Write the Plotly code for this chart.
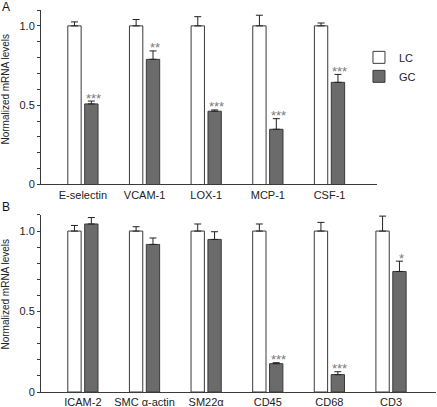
import plotly.graph_objects as go

# ---- data ----
cats_a = ["E-selectin", "VCAM-1", "LOX-1", "MCP-1", "CSF-1"]
lc_a = [1.0, 1.0, 1.0, 1.0, 1.0]
lc_err_a = [0.025, 0.04, 0.058, 0.067, 0.018]
gc_a = [0.508, 0.789, 0.462, 0.348, 0.644]
gc_err_a = [0.018, 0.053, 0.008, 0.067, 0.05]
sig_a = ["***", "**", "***", "***", "***"]

cats_b = ["ICAM-2", "SMC \u03b1-actin", "SM22\u03b1", "CD45", "CD68", "CD3"]
lc_b = [1.0, 1.0, 1.0, 1.0, 1.0, 1.0]
lc_err_b = [0.035, 0.027, 0.044, 0.044, 0.054, 0.093]
gc_b = [1.044, 0.917, 0.948, 0.176, 0.108, 0.749]
gc_err_b = [0.04, 0.04, 0.048, 0.006, 0.018, 0.064]
sig_b = ["", "", "", "***", "***", "*"]

y_tickvals = [0, 0.5, 1.0]
y_ticktext = ["0", "0.5", "1.0"]

FONT = "Liberation Sans, Arial, sans-serif"
LINE = "#3a3a3a"
GC_FILL = "#6b6b6b"


def err(vals):
    return dict(type="data", symmetric=False, array=vals, arrayminus=[0] * len(vals),
                color="#222", thickness=1, width=3.5)


fig = go.Figure()
fig.add_trace(go.Bar(x=cats_a, y=lc_a, name="LC", error_y=err(lc_err_a),
                     marker=dict(color="white", line=dict(color=LINE, width=1)),
                     xaxis="x", yaxis="y", legendgroup="LC"))
fig.add_trace(go.Bar(x=cats_a, y=gc_a, name="GC", error_y=err(gc_err_a),
                     marker=dict(color=GC_FILL, line=dict(color=LINE, width=1)),
                     xaxis="x", yaxis="y", legendgroup="GC"))
fig.add_trace(go.Bar(x=cats_b, y=lc_b, name="LC", error_y=err(lc_err_b),
                     marker=dict(color="white", line=dict(color=LINE, width=1)),
                     xaxis="x2", yaxis="y2", legendgroup="LC", showlegend=False))
fig.add_trace(go.Bar(x=cats_b, y=gc_b, name="GC", error_y=err(gc_err_b),
                     marker=dict(color=GC_FILL, line=dict(color=LINE, width=1)),
                     xaxis="x2", yaxis="y2", legendgroup="GC", showlegend=False))

annotations = []
off = 0.166
for i, (v, e, s) in enumerate(zip(gc_a, gc_err_a, sig_a)):
    if s:
        annotations.append(dict(x=i + off, y=v + e, xref="x", yref="y", text=s,
                                showarrow=False, yanchor="middle", yshift=3,
                                font=dict(size=13, color="#7a7a7a", family=FONT)))
for i, (v, e, s) in enumerate(zip(gc_b, gc_err_b, sig_b)):
    if s:
        annotations.append(dict(x=i + off, y=v + e, xref="x2", yref="y2", text=s,
                                showarrow=False, yanchor="middle", yshift=3,
                                font=dict(size=13, color="#7a7a7a", family=FONT)))

# axis titles and panel letters
for ytitle in (0.793, 0.2565):
    annotations.append(dict(x=-0.0899, y=ytitle, xref="paper", yref="paper",
                            text="Normalized mRNA levels", textangle=-90, showarrow=False,
                            xanchor="center", yanchor="middle",
                            font=dict(size=10, color="#222", family=FONT)))
annotations.append(dict(x=-0.104, y=1.008, xref="paper", yref="paper", text="A",
                        showarrow=False, xanchor="left", yanchor="middle",
                        font=dict(size=12, color="#111", family=FONT)))
annotations.append(dict(x=-0.104, y=0.483, xref="paper", yref="paper", text="B",
                        showarrow=False, xanchor="left", yanchor="middle",
                        font=dict(size=12, color="#111", family=FONT)))

yaxis_common = dict(range=[0, 1.1], tickvals=y_tickvals, ticktext=y_ticktext,
                    ticks="outside", ticklen=3, tickcolor=LINE, showline=True,
                    linecolor=LINE, linewidth=1, showgrid=False, zeroline=False,
                    tickfont=dict(size=11, color="#222", family=FONT),
                    minor=dict(dtick=0.1, tick0=0, ticks="outside", ticklen=3,
                               tickcolor=LINE, showgrid=False),
                    fixedrange=True, automargin=False)
xaxis_common = dict(type="category", showline=True, linecolor=LINE, linewidth=1,
                    ticks="", showgrid=False, zeroline=False, automargin=False,
                    tickfont=dict(size=11, color="#222", family=FONT), fixedrange=True)

fig.update_layout(
    width=437, height=407,
    margin=dict(l=41, r=1, t=10, b=15, autoexpand=False),
    paper_bgcolor="white", plot_bgcolor="white",
    barmode="group", bargap=0.452, bargroupgap=0.21,
    font=dict(family=FONT, color="#222"),
    xaxis=dict(domain=[0, 0.8506], range=[-0.68, 4.77], anchor="y", **xaxis_common),
    yaxis=dict(domain=[0.5432, 1.0], anchor="x", **yaxis_common),
    xaxis2=dict(domain=[0, 1.0], range=[-0.68, 5.73], anchor="y2", **xaxis_common),
    yaxis2=dict(domain=[0, 0.4634], anchor="x2", **yaxis_common),
    legend=dict(x=0.805, y=0.914, xanchor="left", yanchor="top",
                font=dict(size=11, color="#222", family=FONT),
                bgcolor="rgba(0,0,0,0)", traceorder="normal"),
    annotations=annotations,
    showlegend=True,
)

fig.write_html("out.html", config={"displayModeBar": False},
               post_script="document.body.style.margin='0';document.body.style.overflow='hidden';")
